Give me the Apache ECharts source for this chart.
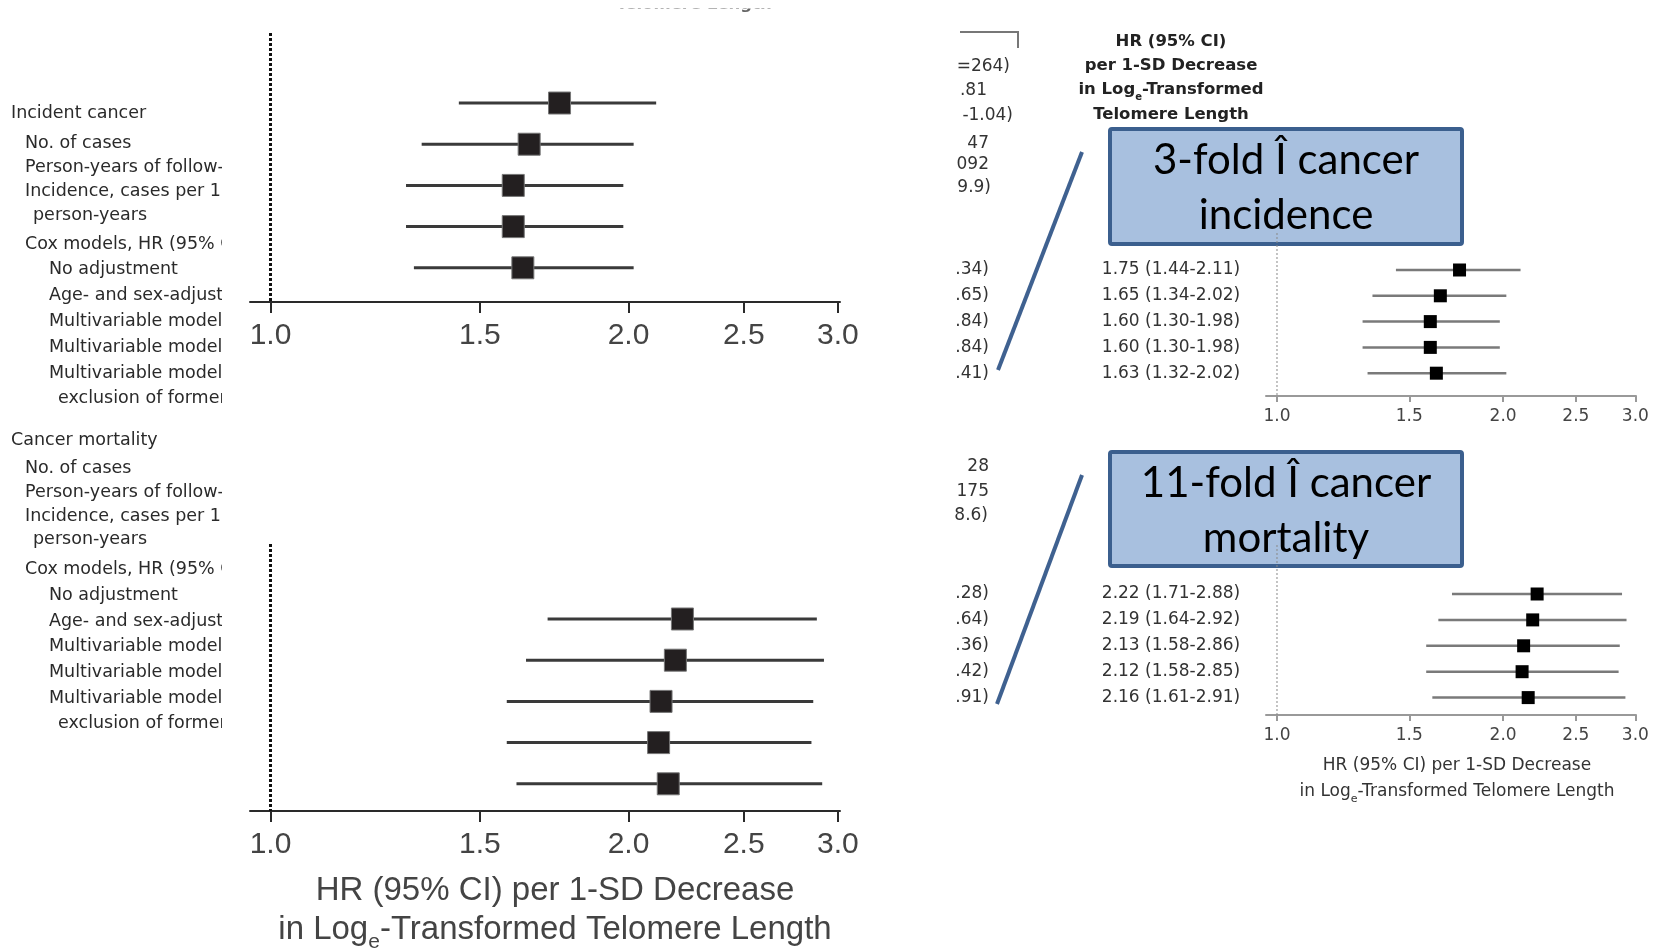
<!DOCTYPE html>
<html><head><meta charset="utf-8">
<script src="https://cdn.jsdelivr.net/npm/echarts@6/dist/echarts.min.js"></script>
<style>html,body{margin:0;padding:0;background:#fff}#c{width:1663px;height:952px}</style>
</head><body><div id="c"></div>
<script>
// ---------- data ----------
const models = ["No adjustment","Age- and sex-adjusted","Multivariable model 1","Multivariable model 2","Multivariable model 1 with exclusion of former smokers"];
const incHR = [1.75,1.65,1.60,1.60,1.63];
const incLo = [1.44,1.34,1.30,1.30,1.32];
const incHi = [2.11,2.02,1.98,1.98,2.02];
const morHR = [2.22,2.19,2.13,2.12,2.16];
const morLo = [1.71,1.64,1.58,1.58,1.61];
const morHi = [2.88,2.92,2.86,2.85,2.91];
const tickLabels = [1.0,1.5,2.0,2.5,3.0];
const incidentLabels = ["Incident cancer","No. of cases","Person-years of follow-up","Incidence, cases per 10","person-years","Cox models, HR (95% CI)","No adjustment","Age- and sex-adjusted","Multivariable model 1","Multivariable model 2","Multivariable model 1","exclusion of former"];
const mortalityLabels = ["Cancer mortality","No. of cases","Person-years of follow-up","Incidence, cases per 10","person-years","Cox models, HR (95% CI)","No adjustment","Age- and sex-adjusted","Multivariable model 1","Multivariable model 2","Multivariable model 1","exclusion of former"];
const incTopFragments = ["=264)",".81","-1.04)","47","092","9.9)"];
const incRowFragments = [".34)",".65)",".84)",".84)",".41)"];
const morTopFragments = ["28","175","8.6)"];
const morRowFragments = [".28)",".64)",".36)",".42)",".91)"];
const headerLines = ["HR (95% CI)","per 1-SD Decrease","in Log{sub|e}-Transformed","Telomere Length"];
const axisTitle = ["HR (95% CI) per 1-SD Decrease","in Log{sub|e}-Transformed Telomere Length"];
const callouts = [["3-fold Î cancer","incidence"],["11-fold Î cancer","mortality"]];

// ---------- layout ----------
const L = Math.log;
const tickVals = tickLabels.map(L);
const chart = echarts.init(document.getElementById('c'));
const DJ = 'DejaVu Sans';
const LS = 'Liberation Sans';

function rowsOf(hr, lo, hi){ return hr.map((v,i)=>[i, L(v), L(lo[i]), L(hi[i])]); }

const grids = [
  {left:250, top:33, width:590, height:269},
  {left:250, top:544, width:590, height:267},
  {left:1266, top:233, width:370, height:163},
  {left:1266, top:545, width:370, height:170}
];
const yr = [[-1.70,4.83],[-1.82,4.66],[-1.434,4.884],[-1.892,4.672]];

function xAx(i, big){
  return {
    type:'value', gridIndex:i, position:'bottom',
    min: big ? -0.0397 : -0.0337,
    max: big ? L(3)+0.004 : L(3)+0.002,
    splitLine:{show:false},
    axisLine:{show:true, onZero:false, lineStyle:{color: big?'#2a2a2a':'#999', width:2}},
    axisTick:{show:true, customValues:tickVals, length: big?11:6, lineStyle:{color: big?'#2a2a2a':'#999', width:2}},
    axisLabel:{customValues:tickVals, formatter:v=>Math.exp(v).toFixed(1),
      fontFamily: big?LS:DJ, fontSize: big?30:17, color:'#444', margin: big?19:12}
  };
}
function yAx(i){
  return {type:'value', gridIndex:i, inverse:true, min:yr[i][0], max:yr[i][1], show:false};
}

function forest(i, data, big, frags){
  return {
    type:'custom', xAxisIndex:i, yAxisIndex:i, clip:false, z:2,
    data, encode:{x:[1,2,3], y:0},
    renderItem(params, api){
      const y = api.value(0);
      const pl = api.coord([api.value(2), y]);
      const ph = api.coord([api.value(3), y]);
      const pe = api.coord([api.value(1), y]);
      const s = big ? 22 : 13;
      const ch = [
        {type:'line', shape:{x1:pl[0],y1:pl[1],x2:ph[0],y2:ph[1]},
         style:{stroke: big?'#3a3a3a':'#7a7a7a', lineWidth: big?3:2.5}},
        {type:'rect', shape:{x:pe[0]-s/2, y:pe[1]-s/2, width:s, height:s},
         style:{fill: big?'#231f20':'#000', stroke: big?'#777':null, lineWidth: big?1:0}}
      ];
      if(!big){
        const idx = params.dataIndex;
        const hr = i===2?incHR:morHR, lo=i===2?incLo:morLo, hi=i===2?incHi:morHi;
        const txt = hr[idx].toFixed(2)+' ('+lo[idx].toFixed(2)+'-'+hi[idx].toFixed(2)+')';
        ch.push({type:'text', style:{text:txt, x:1171, y:pe[1], align:'center', verticalAlign:'middle',
          textAlign:'center', textVerticalAlign:'middle', fontFamily:DJ, fontSize:17, fill:'#333'}});
        ch.push({type:'text', style:{text:frags[idx], x:989, y:pe[1], align:'right', verticalAlign:'middle',
          textAlign:'right', textVerticalAlign:'middle', fontFamily:DJ, fontSize:17, fill:'#333'}});
      }
      return {type:'group', children:ch};
    }
  };
}
function refLine(i, big){
  return {type:'line', xAxisIndex:i, yAxisIndex:i, z:2, symbol:'none', silent:true,
    data:[[L(1), yr[i][0]],[L(1), yr[i][1]]],
    lineStyle: big ? {color:'#111', width:3, type:[3,2]} : {color:'#888', width:1, type:[2,2]}};
}

// ---------- graphic annotations ----------
const G = [];
function T(text, x, y, o){
  G.push({type:'text', x, y, z:o.z||10, silent:true, style:Object.assign({text, align:o.align||'left', verticalAlign:o.va||'middle',
    fontFamily:o.ff||DJ, fontSize:o.fs||17, fontWeight:o.fw||'normal', fill:o.fill||'#2a2a2a'}, o.extra||{})});
}
const labelX = [11,25,25,25,33,25,49,49,49,49,49,58];
const incY = [113,143,167,191.5,215,244,269,295,321.5,347.5,373,398];
const morY = [440,468.5,492,516,539.5,569,595,621,646.5,672,698.5,723];
incidentLabels.forEach((t,k)=>T(t, labelX[k], incY[k], {fs:17.5}));
mortalityLabels.forEach((t,k)=>T(t, labelX[k], morY[k], {fs:17.5}));
G.push({type:'rect', z:11, silent:true, shape:{x:222, y:95, width:27, height:640}, style:{fill:'#fff'}});

// top cropped header
T('Telomere Length', 694, 13, {align:'center', va:'bottom', fw:'bold', fs:16.5, fill:'#666'});
G.push({type:'rect', z:11, silent:true, shape:{x:590, y:0, width:210, height:8.5}, style:{fill:'#fff'}});

// right table fragments
const incTopY = [66.5,91,116,143.5,165,188];
const incTopR = [1010,987,1013,989,989,991];
incTopFragments.forEach((t,k)=>T(t, incTopR[k], incTopY[k], {align:'right', fill:'#333'}));
const morTopY = [467,491.7,516];
const morTopR = [989,989,988];
morTopFragments.forEach((t,k)=>T(t, morTopR[k], morTopY[k], {align:'right', fill:'#333'}));
G.push({type:'polyline', z:10, silent:true, shape:{points:[[960,32],[1018,32],[1018,48]]}, style:{stroke:'#777', lineWidth:2, fill:null}});

// header
const hdrY = [41.7,65.7,90,114.3];
headerLines.forEach((t,k)=>T(t, 1171, hdrY[k], {align:'center', fw:'bold', fs:16.5, fill:'#222',
  extra:{lineHeight:24, rich:{sub:{fontFamily:DJ, fontWeight:'bold', fontSize:10, fill:'#222', verticalAlign:'bottom', lineHeight:24}}}}));

// big axis title
T(axisTitle[0], 555, 891, {align:'center', ff:LS, fs:33, fill:'#444'});
T(axisTitle[1], 555, 930, {align:'center', ff:LS, fs:33, fill:'#444',
  extra:{lineHeight:45, rich:{sub:{fontFamily:LS, fontSize:21, fill:'#444', verticalAlign:'bottom', lineHeight:45}}}});
// small axis title
T(axisTitle[0], 1457, 766, {align:'center', fs:17, fill:'#333'});
T(axisTitle[1], 1457, 792, {align:'center', fs:17, fill:'#333',
  extra:{lineHeight:25, rich:{sub:{fontFamily:DJ, fontSize:11, fill:'#333', verticalAlign:'bottom', lineHeight:25}}}});

// callouts
const boxes = [{y:129, h:115, l1:160, l2:215, c:[[1082,152],[998,370]]},{y:452, h:114, l1:483, l2:538, c:[[1082,475],[997,704]]}];
boxes.forEach((b,k)=>{
  G.push({type:'rect', z:1, silent:true, shape:{x:1110, y:b.y, width:352, height:b.h, r:2}, style:{fill:'#a8c0df', stroke:'#3b5f8e', lineWidth:4}});
  T(callouts[k][0], 1286, b.l1, {align:'center', ff:'Lato', fs:42, fill:'#000', z:3});
  T(callouts[k][1], 1286, b.l2, {align:'center', ff:'Lato', fs:42, fill:'#000', z:3});
  G.push({type:'line', z:5, silent:true, shape:{x1:b.c[0][0], y1:b.c[0][1], x2:b.c[1][0], y2:b.c[1][1]}, style:{stroke:'#3f6190', lineWidth:4}});
});

chart.setOption({
  animation:false,
  grid: grids,
  xAxis:[xAx(0,true), xAx(1,true), xAx(2,false), xAx(3,false)],
  yAxis:[yAx(0), yAx(1), yAx(2), yAx(3)],
  series:[
    refLine(0,true), refLine(1,true), refLine(2,false), refLine(3,false),
    forest(0, rowsOf(incHR,incLo,incHi), true),
    forest(1, rowsOf(morHR,morLo,morHi), true),
    forest(2, rowsOf(incHR,incLo,incHi), false, incRowFragments),
    forest(3, rowsOf(morHR,morLo,morHi), false, morRowFragments)
  ],
  graphic:{elements:G}
});
</script></body></html>
